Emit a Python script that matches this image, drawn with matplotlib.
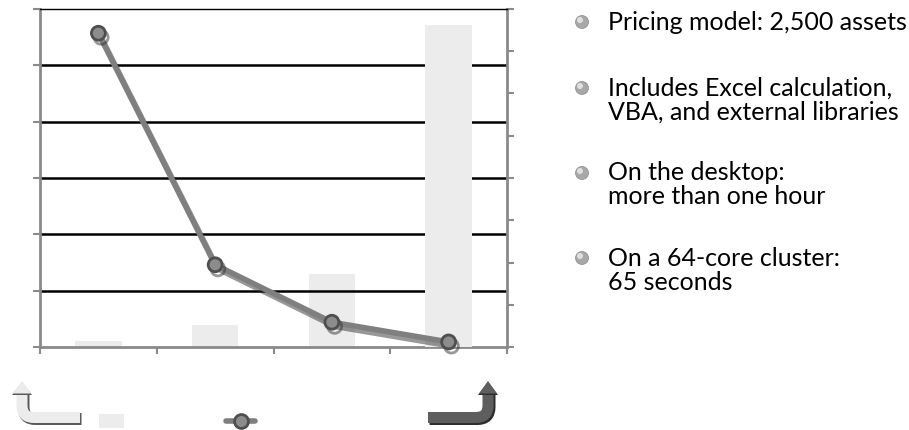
import numpy as np
import matplotlib
matplotlib.use("Agg")
import matplotlib.pyplot as plt
import matplotlib.patheffects as pe
from matplotlib.path import Path
from matplotlib.patches import PathPatch, Polygon, Rectangle, Circle

# values (no labels in the original)
categories = ["1", "2", "3", "4"]
line_vals = [55.7, 14.6, 4.4, 0.9]      # left axis, 0-60
bar_vals = [1.4, 5.2, 17.3, 76.2]       # right axis, 0-80
left_ticks = np.arange(0, 61, 10)
right_ticks = np.arange(0, 81, 10)

bullets = [
    "Pricing model: 2,500 assets",
    "Includes Excel calculation,\nVBA, and external libraries",
    "On the desktop:\nmore than one hour",
    "On a 64-core cluster:\n65 seconds",
]

W, H = 909, 430
fig = plt.figure(figsize=(W / 100, H / 100), dpi=100)
grey = "#8a8a8a"

axb = fig.add_axes([40 / W, 83 / H, 467 / W, 338 / H])
axl = axb.twinx()
x = np.arange(len(categories))

# bars on the right-hand scale
axb.set_xlim(-0.5, len(categories) - 0.5)
axb.set_ylim(0, 80)
bars = axb.bar(x, bar_vals, width=0.4, color="#ececec", zorder=2)
bars.patches[-1].set_zorder(3)  # only the tall bar hides the gridlines
# gridlines follow the left-hand ticks
grid_y = [t * 80 / 60 for t in left_ticks[1:-1]]
axb.hlines(grid_y, -0.5, len(categories) - 0.5, color="black", lw=1.8, zorder=2.5)

axb.yaxis.tick_right()
axb.set_yticks(right_ticks)
axb.set_yticklabels([])
axb.set_xticks(np.arange(-0.5, len(categories), 1))
axb.set_xticklabels([])
axb.tick_params(axis="both", direction="out", length=5, width=1.5, color=grey)
for side in ["left", "right", "bottom"]:
    axb.spines[side].set_color(grey)
    axb.spines[side].set_linewidth(2)
axb.spines["top"].set_color("black")
axb.spines["top"].set_linewidth(1)

# line on the left-hand scale
axl.set_ylim(0, 60)
axl.yaxis.tick_left()
axl.set_yticks(left_ticks)
axl.set_yticklabels([])
axl.tick_params(axis="y", direction="out", length=5, width=1.5, color=grey)
for s in axl.spines.values():
    s.set_visible(False)
axl.plot(x, line_vals, color="#7f7f7f", lw=4, marker="o", ms=10,
         mfc="#8c8c8c", mec="#4f4f4f", mew=2, zorder=5, clip_on=False,
         path_effects=[pe.SimpleLineShadow(offset=(2, -3), shadow_color="#333333", alpha=0.5),
                       pe.Normal()])

# overlay in pixel coordinates for the decorations and the text
ov = fig.add_axes([0, 0, 1, 1], zorder=10)
ov.set_xlim(0, W)
ov.set_ylim(H, 0)
ov.axis("off")
ov.patch.set_visible(False)

px = 72 / 100  # points per pixel


def bent_arrow(xs, corner_x, face, shade):
    step = 12 if xs > corner_x else -12
    verts = [(xs, 417.5), (corner_x + step, 417.5),
             (corner_x, 417.5), (corner_x, 405.5), (corner_x, 393)]
    codes = [Path.MOVETO, Path.LINETO, Path.CURVE3, Path.CURVE3, Path.LINETO]
    sh = [(vx + 1.5, vy + 1.5) for vx, vy in verts]
    ov.add_patch(PathPatch(Path(sh, codes), fill=False, ec=shade, lw=12 * px, capstyle="butt"))
    ov.add_patch(PathPatch(Path(verts, codes), fill=False, ec=face, lw=11 * px, capstyle="butt"))
    ov.add_patch(Polygon([(corner_x - 10, 395), (corner_x + 10, 395), (corner_x, 382)],
                         closed=True, fc=shade, ec="none"))
    ov.add_patch(Polygon([(corner_x - 9, 393.5), (corner_x + 9, 393.5), (corner_x, 381)],
                         closed=True, fc=face, ec="none"))


bent_arrow(80, 22, "#ececec", "#5a5a5a")
bent_arrow(428, 488, "#5e5e5e", "#2e2e2e")

# legend-like keys without text
ov.add_patch(Rectangle((99, 414), 25, 14, fc="#ececec", ec="none"))
ov.plot([226, 255], [421, 421], color="#7f7f7f", lw=4, solid_capstyle="round")
ov.plot([240.5], [421], marker="o", ms=10, mfc="#8c8c8c", mec="#4f4f4f", mew=2)

# bullet text
para_y = [22, 88, 173, 258]
line_gap = 24
for text, y0 in zip(bullets, para_y):
    ov.add_patch(Circle((582, y0), 6.5, fc="#a8a8a8", ec="#8a8a8a", lw=0.5))
    ov.add_patch(Circle((580, y0 - 2), 3, fc="#e6e6e6", ec="none", alpha=0.9))
    for i, line in enumerate(text.split("\n")):
        ov.text(608, y0 + i * line_gap, line, fontsize=18, family="Lato",
                color="black", va="center", ha="left")

fig.savefig("out.png", dpi=100)
